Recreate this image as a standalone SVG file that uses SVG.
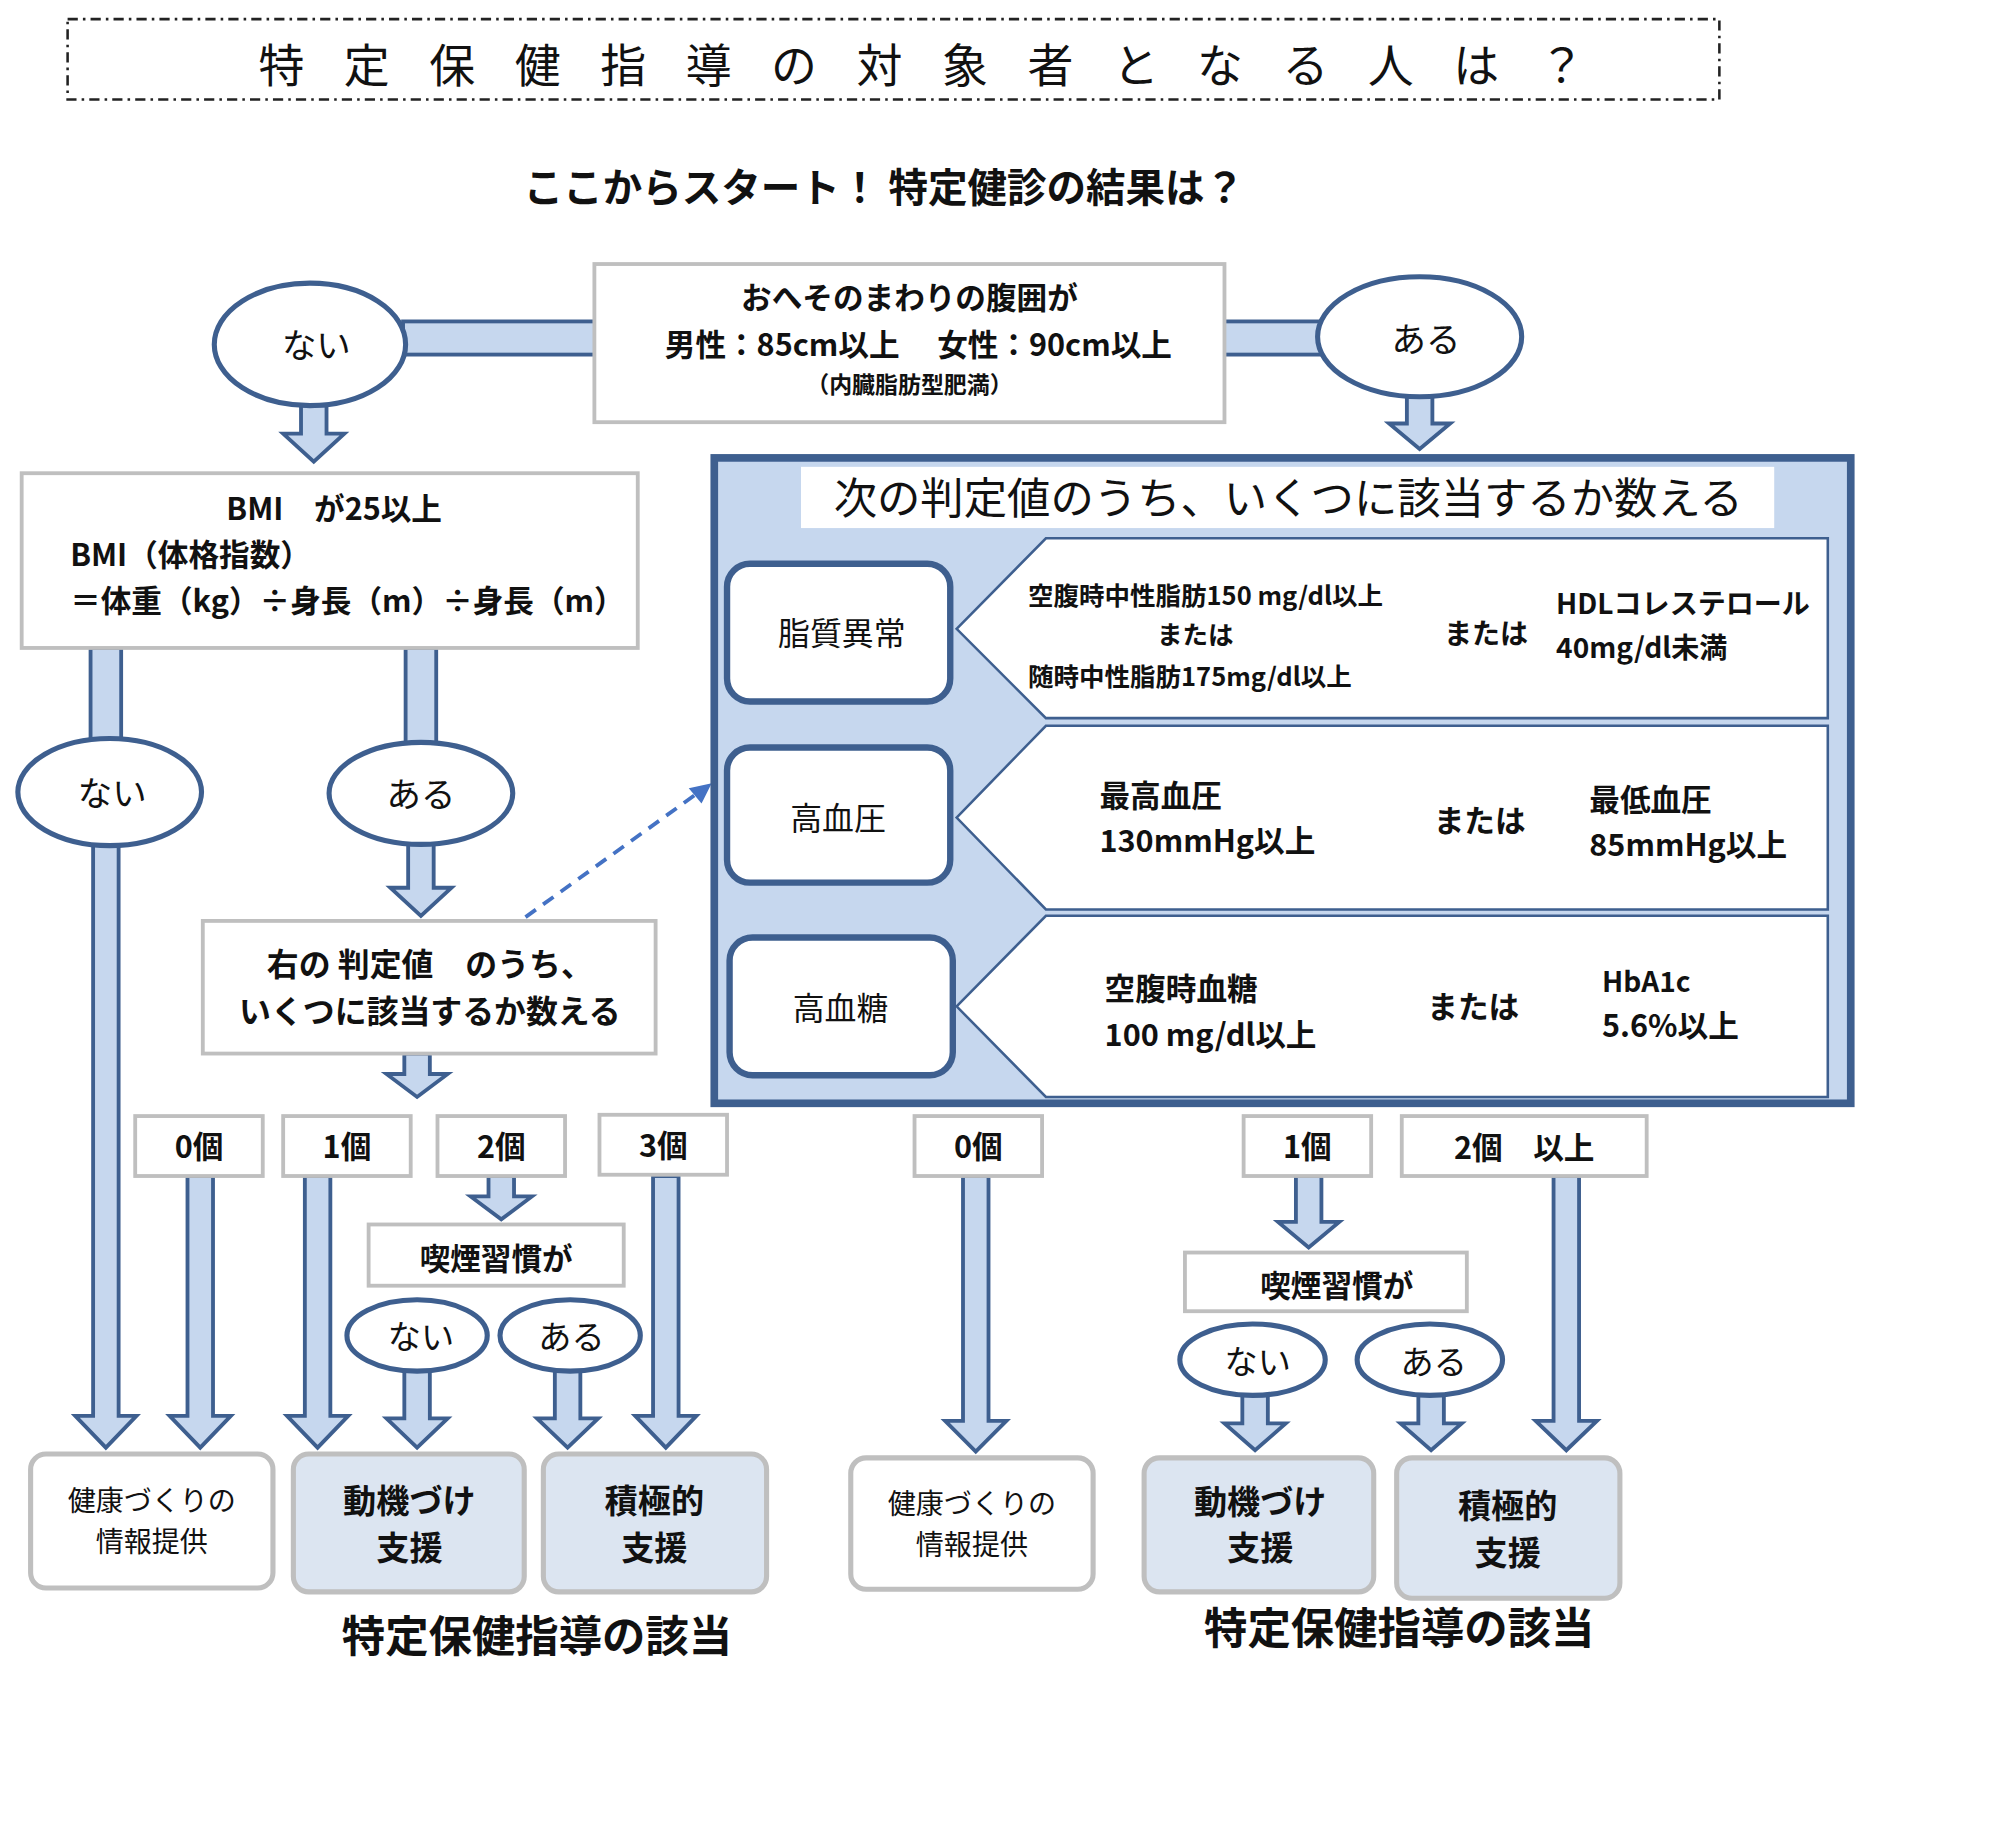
<svg xmlns="http://www.w3.org/2000/svg" width="2000" height="1835" viewBox="0 0 2000 1835">
<style>
text{font-family:"Noto Sans CJK JP","Noto Sans",sans-serif;fill:#111}
.b{font-weight:bold}
.arr{fill:#C6D7EE;stroke:#3E5F8F;stroke-width:3;stroke-linejoin:miter}
.ell{fill:#fff;stroke:#3E5F8F;stroke-width:4}
.box{fill:#fff;stroke:#BFBFBF;stroke-width:3}
.res{fill:#DCE5F1;stroke:#BFBFBF;stroke-width:4}
.resw{fill:#fff;stroke:#BFBFBF;stroke-width:4}
.rr{fill:#fff;stroke:#3E5F8F;stroke-width:5}
.call{fill:#fff;stroke:#3E5F8F;stroke-width:2}
</style>
<rect width="2000" height="1835" fill="#fff"/>
<g transform="scale(1.2755)">
<g id="title">
<rect x="53" y="15" width="1295" height="63" fill="none" stroke="#222" stroke-width="2" stroke-dasharray="8,4,2,4"/>
<text x="738" y="64" font-size="36" text-anchor="middle" letter-spacing="31">特定保健指導の対象者となる人は？</text>
</g>
<text x="693" y="158" font-size="31" class="b" text-anchor="middle">ここからスタート！ 特定健診の結果は？</text>
<g id="connectors">
<rect x="316" y="252" width="152" height="26" class="arr"/>
<rect x="958" y="252" width="80" height="26" class="arr"/>
<rect x="71" y="508" width="24" height="73" class="arr"/>
<rect x="318" y="508" width="24" height="75" class="arr"/>
<polygon class="arr" points="236,318 256,318 256,340 270,340 246,362 222,340 236,340"/>
<polygon class="arr" points="1103,310 1123,310 1123,332 1137,332 1113,352 1089,332 1103,332"/>
<polygon class="arr" points="73,662 93,662 93,1110 107,1110 83,1135 59,1110 73,1110"/>
<polygon class="arr" points="320,661 340,661 340,696 354,696 330,718 306,696 320,696"/>
<polygon class="arr" points="317,826 337,826 337,842 351,842 327,860 303,842 317,842"/>
<polygon class="arr" points="147,922 167,922 167,1110 181,1110 157,1135 133,1110 147,1110"/>
<polygon class="arr" points="239,922 259,922 259,1110 273,1110 249,1135 225,1110 239,1110"/>
<polygon class="arr" points="383,922 403,922 403,938 417,938 393,956 369,938 383,938"/>
<polygon class="arr" points="512,922 532,922 532,1110 546,1110 522,1135 498,1110 512,1110"/>
<polygon class="arr" points="317,1075 337,1075 337,1112 351,1112 327,1135 303,1112 317,1112"/>
<polygon class="arr" points="435,1075 455,1075 455,1112 469,1112 445,1135 421,1112 435,1112"/>
<polygon class="arr" points="755,922 775,922 775,1114 789,1114 765,1138 741,1114 755,1114"/>
<polygon class="arr" points="1016,922 1036,922 1036,958 1050,958 1026,978 1002,958 1016,958"/>
<polygon class="arr" points="974,1094 994,1094 994,1116 1008,1116 984,1137 960,1116 974,1116"/>
<polygon class="arr" points="1112,1094 1132,1094 1132,1116 1146,1116 1122,1137 1098,1116 1112,1116"/>
<polygon class="arr" points="1218,922 1238,922 1238,1114 1252,1114 1228,1137 1204,1114 1218,1114"/>
<line x1="412" y1="719" x2="548" y2="621" stroke="#4472C4" stroke-width="3" stroke-dasharray="10,7"/>
<polygon points="558,614 540,618 550,630" fill="#4472C4"/>
</g>
<g id="waist">
<rect x="466" y="207" width="494" height="124" class="box"/>
<text x="713" y="242" font-size="24" class="b" text-anchor="middle">おへそのまわりの腹囲が</text>
<text x="720" y="279" font-size="24" class="b" text-anchor="middle">男性：85cm以上　 女性：90cm以上</text>
<text x="713" y="308" font-size="18" class="b" text-anchor="middle">（内臓脂肪型肥満）</text>
</g>
<g id="nai1"><ellipse cx="243" cy="270" rx="75" ry="48" class="ell"/><text x="248" y="281" font-size="27" text-anchor="middle">ない</text></g>
<g id="aru1"><ellipse cx="1113" cy="264" rx="80" ry="47" class="ell"/><text x="1118" y="276" font-size="27" text-anchor="middle">ある</text></g>
<g id="bmi">
<rect x="17" y="371" width="483" height="137" class="box"/>
<text x="262" y="408" font-size="24" class="b" text-anchor="middle">BMI　が25以上</text>
<text x="55" y="444" font-size="24" class="b">BMI（体格指数）</text>
<text x="55" y="480" font-size="24" class="b">＝体重（kg）÷身長（m）÷身長（m）</text>
</g>
<g id="nai2"><ellipse cx="86" cy="621" rx="72" ry="42" class="ell"/><text x="88" y="632" font-size="27" text-anchor="middle">ない</text></g>
<g id="aru2"><ellipse cx="330" cy="622" rx="72" ry="40" class="ell"/><text x="330" y="633" font-size="27" text-anchor="middle">ある</text></g>
<g id="count1">
<rect x="159" y="722" width="355" height="104" class="box"/>
<text x="337" y="765" font-size="25" class="b" text-anchor="middle">右の 判定値　のうち、</text>
<text x="337" y="802" font-size="25" class="b" text-anchor="middle">いくつに該当するか数える</text>
</g>
<g id="c0"><rect x="106" y="875" width="100" height="47" class="box"/><text x="156" y="908" font-size="24" class="b" text-anchor="middle">0個</text></g>
<g id="c1"><rect x="222" y="875" width="100" height="47" class="box"/><text x="272" y="908" font-size="24" class="b" text-anchor="middle">1個</text></g>
<g id="c2"><rect x="343" y="875" width="100" height="47" class="box"/><text x="393" y="908" font-size="24" class="b" text-anchor="middle">2個</text></g>
<g id="c3"><rect x="470" y="874" width="100" height="47" class="box"/><text x="520" y="907" font-size="24" class="b" text-anchor="middle">3個</text></g>
<g id="smoke1"><rect x="289" y="960" width="200" height="48" class="box"/><text x="389" y="996" font-size="24" class="b" text-anchor="middle">喫煙習慣が</text></g>
<g id="nai3"><ellipse cx="327" cy="1047" rx="55" ry="28" class="ell" stroke-width="3"/><text x="330" y="1058" font-size="26" text-anchor="middle">ない</text></g>
<g id="aru3"><ellipse cx="447" cy="1047" rx="55" ry="28" class="ell" stroke-width="3"/><text x="448" y="1058" font-size="26" text-anchor="middle">ある</text></g>
<g id="info1"><rect x="24" y="1140" width="190" height="105" rx="12" class="resw"/><text x="119" y="1185" font-size="22" text-anchor="middle">健康づくりの</text><text x="119" y="1217" font-size="22" text-anchor="middle">情報提供</text></g>
<g id="moti1"><rect x="230" y="1140" width="181" height="108" rx="12" class="res"/><text x="321" y="1186" font-size="26" class="b" text-anchor="middle">動機づけ</text><text x="321" y="1223" font-size="26" class="b" text-anchor="middle">支援</text></g>
<g id="seki1"><rect x="426" y="1140" width="175" height="108" rx="12" class="res"/><text x="513" y="1186" font-size="26" class="b" text-anchor="middle">積極的</text><text x="513" y="1223" font-size="26" class="b" text-anchor="middle">支援</text></g>
<text x="421" y="1295" font-size="34" class="b" text-anchor="middle">特定保健指導の該当</text>
<g id="panel">
<rect x="560" y="359" width="891" height="506" fill="#C6D7EE" stroke="#3E5F8F" stroke-width="6"/>
<rect x="628" y="366" width="763" height="48" fill="#fff"/>
<text x="1010" y="403" font-size="34" text-anchor="middle">次の判定値のうち、いくつに該当するか数える</text>
</g>
<g id="row1">
<polygon class="call" points="750,493 820,422 1433,422 1433,563 820,563"/>
<rect x="570" y="442" width="175" height="108" rx="18" class="rr"/>
<text x="660" y="506" font-size="25" text-anchor="middle">脂質異常</text>
<text x="806" y="474" font-size="20" class="b">空腹時中性脂肪150 mg/dl以上</text>
<text x="937" y="505" font-size="20" class="b" text-anchor="middle">または</text>
<text x="806" y="538" font-size="20" class="b">随時中性脂肪175mg/dl以上</text>
<text x="1165" y="505" font-size="22" class="b" text-anchor="middle">または</text>
<text x="1220" y="481" font-size="22" class="b">HDLコレステロール</text>
<text x="1220" y="516" font-size="22" class="b">40mg/dl未満</text>
</g>
<g id="row2">
<polygon class="call" points="750,641 820,569 1433,569 1433,713 820,713"/>
<rect x="570" y="586" width="175" height="106" rx="18" class="rr"/>
<text x="657" y="651" font-size="25" text-anchor="middle">高血圧</text>
<text x="862" y="633" font-size="24" class="b">最高血圧</text>
<text x="862" y="668" font-size="24" class="b">130mmHg以上</text>
<text x="1160" y="652" font-size="24" class="b" text-anchor="middle">または</text>
<text x="1246" y="636" font-size="24" class="b">最低血圧</text>
<text x="1246" y="671" font-size="24" class="b">85mmHg以上</text>
</g>
<g id="row3">
<polygon class="call" points="750,789 820,718 1433,718 1433,860 820,860"/>
<rect x="572" y="735" width="175" height="108" rx="18" class="rr"/>
<text x="659" y="800" font-size="25" text-anchor="middle">高血糖</text>
<text x="866" y="784" font-size="24" class="b">空腹時血糖</text>
<text x="866" y="820" font-size="24" class="b">100 mg/dl以上</text>
<text x="1155" y="798" font-size="24" class="b" text-anchor="middle">または</text>
<text x="1256" y="778" font-size="22" class="b">HbA1c</text>
<text x="1256" y="813" font-size="24" class="b">5.6%以上</text>
</g>
<g id="r0"><rect x="717" y="875" width="100" height="47" class="box"/><text x="767" y="908" font-size="24" class="b" text-anchor="middle">0個</text></g>
<g id="r1"><rect x="975" y="875" width="100" height="47" class="box"/><text x="1025" y="908" font-size="24" class="b" text-anchor="middle">1個</text></g>
<g id="r2"><rect x="1099" y="875" width="192" height="47" class="box"/><text x="1195" y="909" font-size="24" class="b" text-anchor="middle">2個　以上</text></g>
<g id="smoke2"><rect x="929" y="982" width="221" height="46" class="box"/><text x="1048" y="1017" font-size="24" class="b" text-anchor="middle">喫煙習慣が</text></g>
<g id="nai4"><ellipse cx="982" cy="1066" rx="57" ry="28" class="ell" stroke-width="3"/><text x="986" y="1077" font-size="26" text-anchor="middle">ない</text></g>
<g id="aru4"><ellipse cx="1121" cy="1066" rx="57" ry="28" class="ell" stroke-width="3"/><text x="1124" y="1077" font-size="26" text-anchor="middle">ある</text></g>
<g id="info2"><rect x="667" y="1143" width="190" height="103" rx="12" class="resw"/><text x="762" y="1187" font-size="22" text-anchor="middle">健康づくりの</text><text x="762" y="1219" font-size="22" text-anchor="middle">情報提供</text></g>
<g id="moti2"><rect x="897" y="1143" width="180" height="105" rx="12" class="res"/><text x="988" y="1187" font-size="26" class="b" text-anchor="middle">動機づけ</text><text x="988" y="1223" font-size="26" class="b" text-anchor="middle">支援</text></g>
<g id="seki2"><rect x="1095" y="1143" width="175" height="110" rx="12" class="res"/><text x="1182" y="1190" font-size="26" class="b" text-anchor="middle">積極的</text><text x="1182" y="1227" font-size="26" class="b" text-anchor="middle">支援</text></g>
<text x="1097" y="1289" font-size="34" class="b" text-anchor="middle">特定保健指導の該当</text>
</g>
</svg>
